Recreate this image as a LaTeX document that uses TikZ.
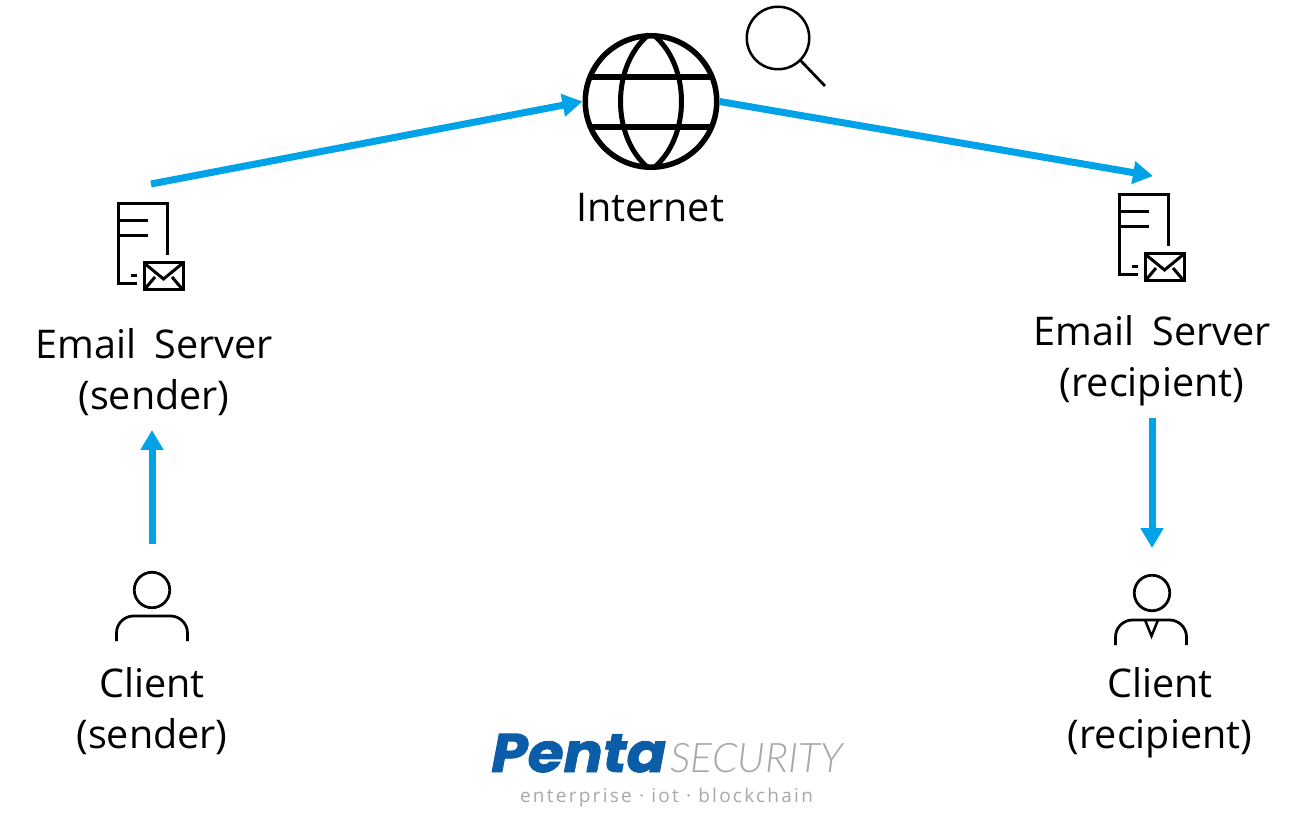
\documentclass[tikz,border=0pt]{standalone}
\usepackage{fontspec}
\setmainfont[WordSpace=1.8]{Open Sans}
\newfontfamily\pentafont[BoldItalicFeatures={FakeBold=1.5,FakeStretch=1.07}]{Poppins}
\newfontfamily\securefont{Lato Light}
\newfontfamily\tagfont[LetterSpace=12]{Open Sans}
\usetikzlibrary{arrows.meta}
\definecolor{flowblue}{RGB}{0,163,231}
\definecolor{logoblue}{RGB}{11,93,168}
\definecolor{logogrey}{RGB}{166,168,171}
\tikzset{
	flow/.style={draw=flowblue,line width=0.14cm,-{Triangle[length=0.4cm,width=0.44cm]}},
	label/.style={align=center,font=\fontsize{22.5}{29}\selectfont,inner sep=0pt},
	icon/.style={line width=0.06cm},
	iconbox/.style={inner sep=0pt,minimum width=1.3cm,minimum height=1.72cm},
	head/.style={circle,draw,line width=0.055cm,inner sep=0pt,minimum size=0.71cm},
	mailserver/.pic={
		\draw[icon] (0.33,-0.16) -- (0.33,0.86) -- (-0.65,0.86) -- (-0.65,-0.74) -- (-0.27,-0.74);
		\draw[icon] (-0.65,0.52) -- (-0.05,0.52);
		\draw[icon] (-0.65,0.22) -- (-0.05,0.22);
		\draw[icon] (-0.39,-0.58) -- (-0.27,-0.58);
		\draw[icon] (-0.13,-0.86) rectangle (0.65,-0.32);
		\draw[icon] (-0.13,-0.32) -- (0.26,-0.64) -- (0.65,-0.32);
		\draw[icon] (-0.13,-0.86) -- (0.09,-0.6);
		\draw[icon] (0.65,-0.86) -- (0.43,-0.6);
	},
	shoulders/.pic={
		\draw[icon,line width=0.055cm] (-0.71,-0.5) -- (-0.71,-0.34) arc (180:90:0.34) -- (0.37,0) arc (90:0:0.34) -- (0.71,-0.5);
	}
}
\begin{document}
\begin{tikzpicture}
	\useasboundingbox (0,0) rectangle (26.22,-16.38);

	% globe
	\node (globe) [circle,draw,line width=0.11cm,inner sep=0pt,minimum size=2.63cm] at (13.02,-2.03) {};
	\draw[line width=0.11cm] (11.78,-1.54) -- (14.26,-1.54);
	\draw[line width=0.11cm] (11.78,-2.54) -- (14.26,-2.54);
	\draw[line width=0.1cm,shorten <=0.05cm,shorten >=0.05cm] (globe.north) .. controls (12.22,-1.3) and (12.22,-2.76) .. (globe.south);
	\draw[line width=0.1cm,shorten <=0.05cm,shorten >=0.05cm] (globe.north) .. controls (13.82,-1.3) and (13.82,-2.76) .. (globe.south);
	\node (internet) [label] at (13,-4.16) {Internet};

	% magnifier
	\node (lens) [circle,draw,line width=0.05cm,inner sep=0pt,minimum size=1.25cm] at (15.56,-0.76) {};
	\coordinate (grip) at (16.5,-1.72);
	\draw[line width=0.055cm] (lens) ++(-45:0.64) -- (grip);

	% servers
	\node (srvsend) [iconbox] at (3.01,-4.94) {};
	\pic at (srvsend) {mailserver};
	\node (srvsendtxt) [label] at (3.08,-7.44) {Email Server\\(sender)};
	\node (srvrecv) [iconbox] at (23.03,-4.76) {};
	\pic at (srvrecv) {mailserver};
	\node (srvrecvtxt) [label] at (23.04,-7.22) {Email Server\\(recipient)};

	% clients
	\node (headsend) [head] at (3.04,-11.8) {};
	\pic at (3.04,-12.32) {shoulders};
	\node (clisendtxt) [label] at (3.04,-14.22) {Client\\(sender)};
	\node (headrecv) [head] at (23.04,-11.86) {};
	\pic at (23.02,-12.4) {shoulders};
	\coordinate (tieleft) at (22.9,-12.4);
	\coordinate (tieright) at (23.16,-12.4);
	\coordinate (tiedown) at (23.03,-12.72);
	\draw[icon,line width=0.05cm] (tieleft) -- (tiedown) -- (tieright);
	\node (clirecvtxt) [label] at (23.2,-14.26) {Client\\(recipient)};

	% arrows
	\coordinate (sendout) at (3.02,-3.68);
	\coordinate (recvin) at (23.06,-3.52);
	\coordinate (clisendout) at (3.04,-10.88);
	\coordinate (srvsendin) at (3.04,-8.6);
	\coordinate (srvrecvout) at (23.04,-8.36);
	\coordinate (clirecvin) at (23.04,-10.96);
	\draw[flow] (sendout) -- (globe.west);
	\draw[flow] (globe.east) -- (recvin);
	\draw[flow] (clisendout) -- (srvsendin);
	\draw[flow] (srvrecvout) -- (clirecvin);

	% logo
	\node (penta) [anchor=base west,inner sep=0pt,text=logoblue,font=\pentafont\fontsize{31}{34}\selectfont\bfseries\itshape] at (9.82,-15.44) {Penta};
	\node (secure) [anchor=base west,inner sep=0pt,text=logogrey,font=\securefont\fontsize{23.2}{27}\selectfont\itshape] at (13.4,-15.44) {SECURITY};
	\node (tagline) [anchor=base,inner sep=0pt,text=logogrey,font=\tagfont\fontsize{10.8}{12}\selectfont] at (13.33,-16.04) {enterprise · iot · blockchain};
\end{tikzpicture}
\end{document}
